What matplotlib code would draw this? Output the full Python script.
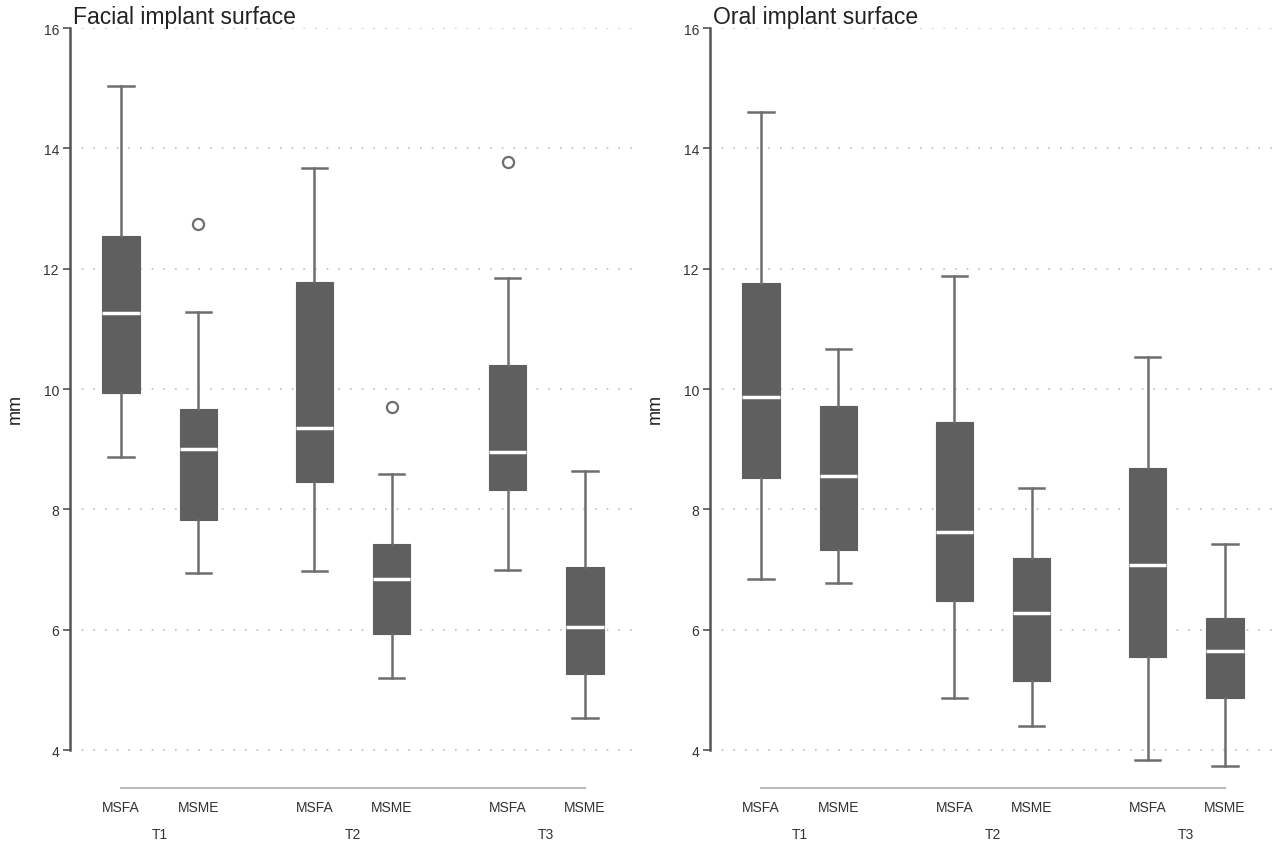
import matplotlib
matplotlib.use("Agg")
import matplotlib.pyplot as plt

plt.rcParams['font.family'] = ['Liberation Sans', 'DejaVu Sans']

groups = ["T1", "T2", "T3"]
methods = ["MSFA", "MSME"]
tick_labels = ["MSFA", "MSME", "MSFA", "MSME", "MSFA", "MSME"]

# Facial implant surface: whislo, q1, med, q3, whishi, outliers
facial_whislo = [8.87, 6.95, 6.97, 5.20, 7.00, 4.54]
facial_q1     = [9.93, 7.83, 8.45, 5.93, 8.33, 5.27]
facial_med    = [11.27, 9.00, 9.35, 6.85, 8.95, 6.05]
facial_q3     = [12.55, 9.67, 11.78, 7.42, 10.40, 7.05]
facial_whishi = [15.03, 11.28, 13.67, 8.58, 11.85, 8.63]
facial_fliers = [[], [12.75], [], [9.70], [13.78], []]

# Oral implant surface
oral_whislo = [6.85, 6.78, 4.87, 4.40, 3.84, 3.73]
oral_q1     = [8.52, 7.33, 6.48, 5.14, 5.55, 4.87]
oral_med    = [9.87, 8.56, 7.63, 6.28, 7.08, 5.65]
oral_q3     = [11.77, 9.72, 9.45, 7.19, 8.68, 6.19]
oral_whishi = [14.60, 10.67, 11.88, 8.36, 10.54, 7.42]
oral_fliers = [[], [], [], [], [], []]

titles = ["Facial implant surface", "Oral implant surface"]
yticks = [4, 6, 8, 10, 12, 14, 16]

positions = [0, 1, 2.5, 3.5, 5, 6]
group_centers = [0.5, 3.0, 5.5]

BOX = "#5f5f5f"
WH = "#6e6e6e"

fig = plt.figure(figsize=(12.76, 8.45), dpi=100)
W, H = 1276, 845

def make_stats(lo, q1, med, q3, hi, fl):
    return [dict(whislo=a, q1=b, med=c, q3=d, whishi=e, fliers=f)
            for a, b, c, d, e, f in zip(lo, q1, med, q3, hi, fl)]

datasets = [
    make_stats(facial_whislo, facial_q1, facial_med, facial_q3, facial_whishi, facial_fliers),
    make_stats(oral_whislo, oral_q1, oral_med, oral_q3, oral_whishi, oral_fliers),
]

for i, stats in enumerate(datasets):
    x0 = 70 + 640 * i
    ax = fig.add_axes([x0 / W, 1 - 789 / H, 566 / W, 760 / H])
    ax.bxp(stats, positions=positions, widths=0.485, patch_artist=True,
           showfliers=True,
           boxprops=dict(facecolor=BOX, edgecolor=BOX, linewidth=0.8),
           medianprops=dict(color="white", linewidth=2.5),
           whiskerprops=dict(color=WH, linewidth=1.8),
           capprops=dict(color=WH, linewidth=1.8),
           capwidths=0.33,
           flierprops=dict(marker="o", markerfacecolor="none",
                           markeredgecolor=WH, markersize=8, markeredgewidth=1.6))
    ax.set_xlim(-0.66, 6.66)
    ax.set_ylim(16 - (789 - 29) / 60.17, 16)
    ax.set_yticks(yticks)
    ax.set_yticklabels([str(t) for t in yticks], fontsize=10, color="#333333")
    ax.yaxis.grid(True, linestyle=(0, (1, 6)), color="#bdbdbd", linewidth=1.2)
    ax.set_axisbelow(True)
    ax.set_xticks(positions)
    ax.set_xticklabels(tick_labels, fontsize=10, color="#333333")
    ax.tick_params(axis="x", length=0, pad=9)
    ax.tick_params(axis="y", length=5, width=1.2, color="#555555", pad=3)
    for s in ["top", "right"]:
        ax.spines[s].set_visible(False)
    ax.spines["left"].set_bounds(4, 16)
    ax.spines["left"].set_color("#555555")
    ax.spines["left"].set_linewidth(1.8)
    ax.spines["bottom"].set_bounds(positions[0], positions[-1])
    ax.spines["bottom"].set_color("#bbbbbb")
    ax.spines["bottom"].set_linewidth(1.5)
    ax.set_ylabel("mm", fontsize=13, color="#222222", labelpad=14)
    for g, c in zip(groups, group_centers):
        ax.text(c, -46 / 760, g, transform=ax.get_xaxis_transform(),
                ha="center", va="center", fontsize=10, color="#333333")
    ax.text(0.005, 1 + 11 / 760, titles[i], transform=ax.transAxes,
            ha="left", va="center", fontsize=16.5, color="#222222")

fig.savefig("out.png", dpi=100, facecolor="white")
